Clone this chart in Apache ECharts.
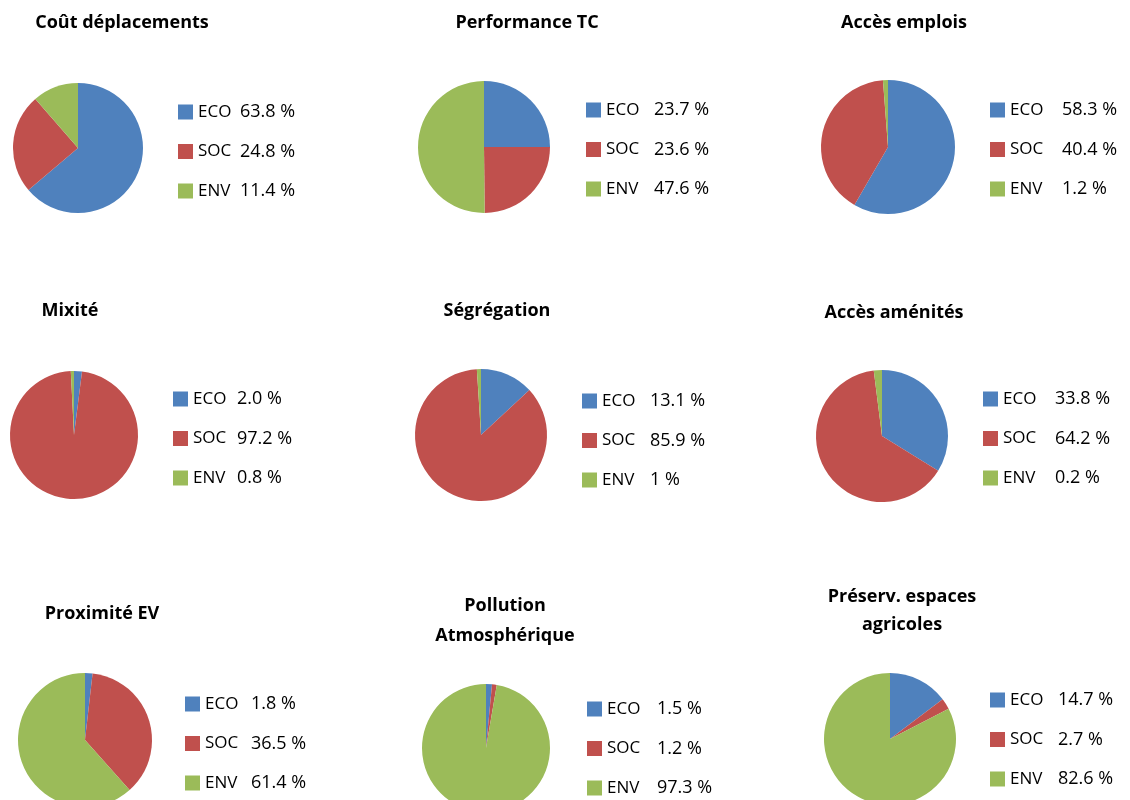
<!DOCTYPE html>
<html>
<head>
<meta charset="utf-8">
<script src="https://cdn.jsdelivr.net/npm/echarts@6/dist/echarts.min.js"></script>
<style>
  html, body { margin: 0; padding: 0; background: #ffffff; }
  #chart { width: 1130px; height: 800px; }
</style>
</head>
<body>
<div id="chart"></div>
<script>
const categories = ["ECO", "SOC", "ENV"];

const panelTitles = [
  "Coût déplacements",
  "Performance TC",
  "Accès emplois",
  "Mixité",
  "Ségrégation",
  "Accès aménités",
  "Proximité EV",
  "Pollution\nAtmosphérique",
  "Préserv. espaces\nagricoles",
];

// slice sizes (ECO, SOC, ENV)
const coutDeplacements = [63.8, 24.8, 11.4];
const performanceTC = [23.7, 23.6, 47.6];
const accesEmplois = [58.3, 40.4, 1.2];
const mixite = [2.0, 97.2, 0.8];
const segregation = [13.1, 85.9, 1];
const accesAmenites = [33.8, 64.2, 2.0];
const proximiteEV = [1.8, 36.5, 61.4];
const pollution = [1.5, 1.2, 97.3];
const preservAgricoles = [14.7, 2.7, 82.6];

// legend value texts as printed
const coutDeplacementsText = ["63.8 %", "24.8 %", "11.4 %"];
const performanceTCText = ["23.7 %", "23.6 %", "47.6 %"];
const accesEmploisText = ["58.3 %", "40.4 %", "1.2 %"];
const mixiteText = ["2.0 %", "97.2 %", "0.8 %"];
const segregationText = ["13.1 %", "85.9 %", "1 %"];
const accesAmenitesText = ["33.8 %", "64.2 %", "0.2 %"];
const proximiteEVText = ["1.8 %", "36.5 %", "61.4 %"];
const pollutionText = ["1.5 %", "1.2 %", "97.3 %"];
const preservAgricolesText = ["14.7 %", "2.7 %", "82.6 %"];

const panelValues = [
  coutDeplacements, performanceTC, accesEmplois,
  mixite, segregation, accesAmenites,
  proximiteEV, pollution, preservAgricoles,
];
const panelTexts = [
  coutDeplacementsText, performanceTCText, accesEmploisText,
  mixiteText, segregationText, accesAmenitesText,
  proximiteEVText, pollutionText, preservAgricolesText,
];

// layout
const titleX = [122, 527, 904, 70, 497, 894, 102, 505, 902];
const titleTop = [12, 12, 12, 300, 300, 302, 603, 591, 583];
const titleLineHeight = [22, 22, 22, 22, 22, 22, 22, 30, 28];
const pieCenters = [
  [78, 148], [484, 147], [888, 147],
  [74, 435], [481, 435], [882, 436],
  [85, 740], [486, 748], [890, 739],
];
const pieRadius = [65, 66, 67, 64, 66, 66, 67, 64, 66];
const legendLeft = [178, 586, 990, 173, 582, 983, 185, 587, 990];
const legendTop = [103, 101, 101, 390, 392, 390, 695, 700, 691];
const nameWidth = [42, 48, 52, 44, 48, 52, 46, 50, 48];

const fontFamily = "'Open Sans', Lato, sans-serif";

const chart = echarts.init(document.getElementById("chart"));

chart.setOption({
  animation: false,
  color: ["#4F81BD", "#C0504D", "#9BBB59"],
  title: panelTitles.map((text, i) => ({
    text,
    left: titleX[i],
    top: titleTop[i],
    textAlign: "center",
    padding: 0,
    textStyle: {
      fontFamily,
      fontSize: 18,
      fontWeight: "bold",
      color: "#000000",
      lineHeight: titleLineHeight[i],
    },
  })),
  legend: panelTexts.map((texts, i) => ({
    data: categories,
    orient: "vertical",
    left: legendLeft[i],
    top: legendTop[i],
    padding: 0,
    icon: "rect",
    itemWidth: 15,
    itemHeight: 15,
    itemGap: 21.5,
    selectedMode: false,
    formatter: (name) => `{n|${name}}{v|${texts[categories.indexOf(name)]}}`,
    textStyle: {
      rich: {
        n: { fontFamily, fontSize: 17, color: "#000000", width: nameWidth[i], lineHeight: 15 },
        v: { fontFamily, fontSize: 18, color: "#000000", lineHeight: 15 },
      },
    },
  })),
  series: panelValues.map((values, i) => ({
    type: "pie",
    center: pieCenters[i],
    radius: pieRadius[i],
    startAngle: 90,
    clockwise: true,
    label: { show: false },
    labelLine: { show: false },
    emphasis: { disabled: true },
    itemStyle: { borderWidth: 0 },
    data: categories.map((name, k) => ({ name, value: values[k] })),
  })),
});
</script>
</body>
</html>
